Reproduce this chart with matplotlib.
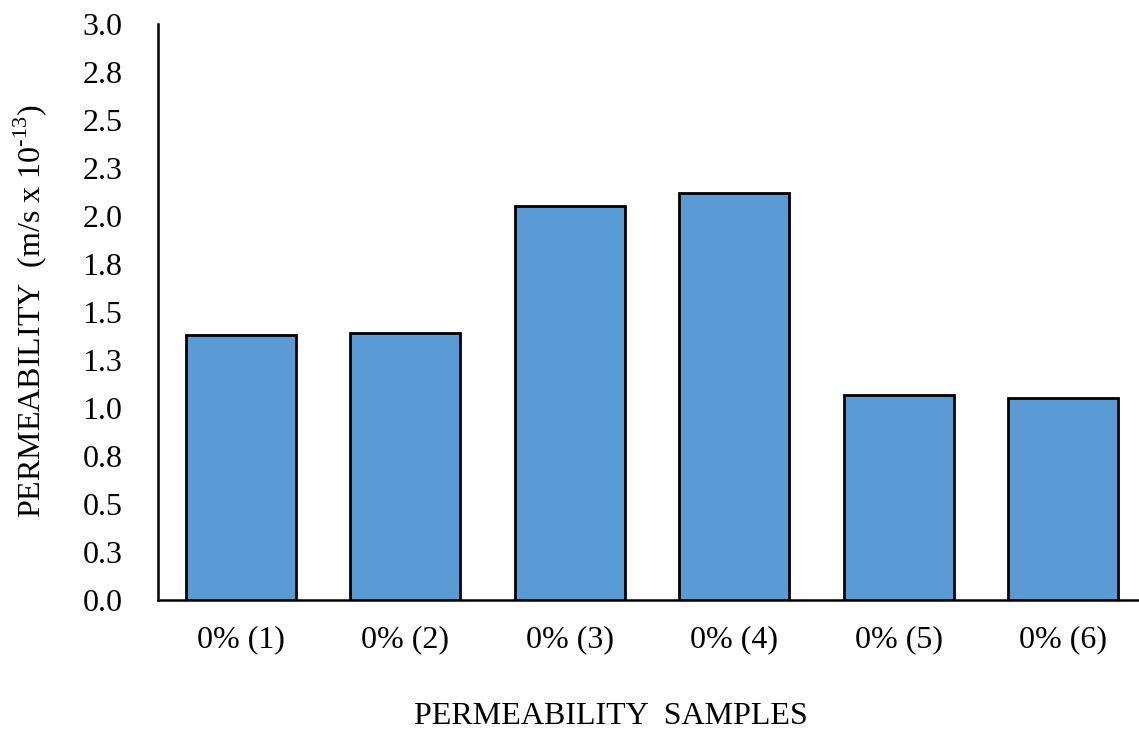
import matplotlib.pyplot as plt

# permeability of each 0% sample (m/s x 10^-13)
samples = ['0% (1)', '0% (2)', '0% (3)', '0% (4)', '0% (5)', '0% (6)']
permeability = [1.38, 1.39, 2.05, 2.12, 1.07, 1.05]
ytick_values = [0.0, 0.25, 0.5, 0.75, 1.0, 1.25, 1.5, 1.75, 2.0, 2.25, 2.5, 2.75, 3.0]
ytick_labels = ['0.0', '0.3', '0.5', '0.8', '1.0', '1.3', '1.5', '1.8', '2.0', '2.3', '2.5', '2.8', '3.0']

plt.rcParams['font.family'] = ['Liberation Serif', 'DejaVu Serif']
plt.rcParams['mathtext.fontset'] = 'custom'
plt.rcParams['mathtext.rm'] = 'Liberation Serif'

W, H = 1139, 730
fig = plt.figure(figsize=(W / 100, H / 100), dpi=100)
ax = fig.add_axes([158.4 / W, 1 - 600 / H, (1145.6 - 158.4) / W, (600 - 24) / H])

x = range(len(samples))
ax.bar(x, permeability, width=0.67, color='#5B9BD5', edgecolor='black', linewidth=2.0, zorder=3)

ax.set_xlim(-0.5, len(samples) - 0.5)
ax.set_ylim(0, 3.0)
ax.set_yticks(ytick_values)
ax.set_yticklabels(ytick_labels)
ax.set_xticks(list(x))
ax.set_xticklabels(samples)
ax.tick_params(axis='y', length=0, pad=26, labelsize=23)
ax.tick_params(axis='x', length=0, pad=18, labelsize=23)

for s in ['top', 'right']:
    ax.spines[s].set_visible(False)
ax.spines['left'].set_linewidth(1.8)
ax.spines['bottom'].set_linewidth(1.8)

# axis titles placed in figure pixels
fig.text(30 / W, 1 - 311 / H, r'PERMEABILITY  (m/s x 10$^{\mathrm{\text{-}13}}$)', fontsize=23,
         rotation=90, ha='center', va='center')
fig.text(611 / W, 1 - 716 / H, 'PERMEABILITY  SAMPLES', fontsize=23, ha='center', va='center')

fig.savefig('out.png', dpi=100)
